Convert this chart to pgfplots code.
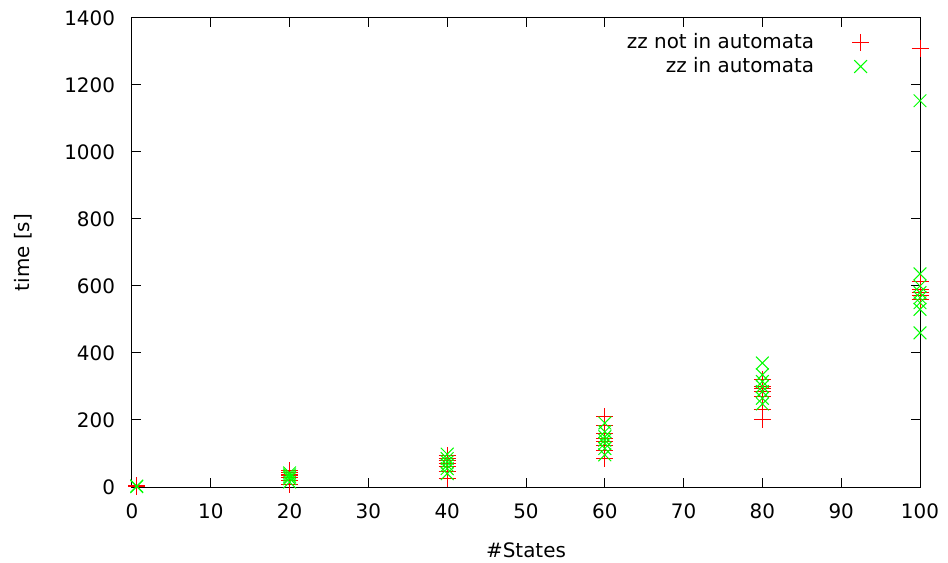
\documentclass[border=0pt]{standalone}
\usepackage{fontspec}
\setmainfont{DejaVu Sans}
\usepackage{pgfplots}
\pgfplotsset{compat=1.18}

\begin{document}
\fontsize{10}{12}\selectfont
\begin{tikzpicture}
\begin{axis}[
    width=394bp, height=234.5bp,
    scale only axis,
    xmin=0, xmax=100, ymin=0, ymax=1400,
    xtick={0,10,...,100},
    ytick={0,200,...,1400},
    tick align=inside,
    major tick length=4.5bp,
    axis line style={line width=0.5bp},
    every tick/.style={black, line width=0.5bp},
    /pgf/number format/assume math mode=true,
    /pgf/number format/1000 sep={},
    xticklabel style={yshift=-5bp},
    yticklabel style={xshift=-5bp},
    xlabel={\#States}, ylabel={time [s]},
    xlabel style={yshift=-5bp},
    ylabel style={yshift=9bp},
    legend plot pos=right,
    legend cell align=right,
    legend style={draw=none, fill=none, at={(0.9435,0.985)}, anchor=north east,
        row sep=-1bp, font=\fontsize{10}{12}\selectfont},
]
\addplot[only marks, mark=+, mark size=4.25bp, red, line width=0.5bp] coordinates {
    (0.6,1) (0.6,2) (0.6,3)
    (20,8) (20,20) (20,27) (20,33) (20,38) (20,44) (20,48)
    (40,25) (40,45) (40,60) (40,70) (40,78) (40,85) (40,93)
    (60,84) (60,110) (60,125) (60,135) (60,145) (60,160) (60,185) (60,209)
    (80,200) (80,232) (80,270) (80,285) (80,293) (80,300) (80,320)
    (100,560) (100,573) (100,580) (100,590) (100,612) (100,1310)
};
\addlegendentry{zz not in automata\rule{17bp}{0pt}}
\addplot[only marks, mark=x, mark size=4.5bp, green, line width=0.5bp] coordinates {
    (0.6,1) (0.6,3)
    (20,15) (20,25) (20,30) (20,36) (20,42)
    (40,40) (40,55) (40,65) (40,75) (40,85) (40,98)
    (60,96) (60,115) (60,130) (60,140) (60,150) (60,165) (60,191)
    (80,248) (80,265) (80,285) (80,300) (80,315) (80,335) (80,370)
    (100,460) (100,530) (100,550) (100,565) (100,580) (100,600) (100,636) (100,1153)
};
\addlegendentry{zz in automata\rule{17bp}{0pt}}
\end{axis}
\pgfresetboundingbox
\path (current axis.south west) ++(-66bp,-38bp) coordinate (bl);
\path (current axis.north east) ++(14bp,9bp) coordinate (tr);
\path[use as bounding box] (bl) rectangle (tr);
\end{tikzpicture}
\end{document}
